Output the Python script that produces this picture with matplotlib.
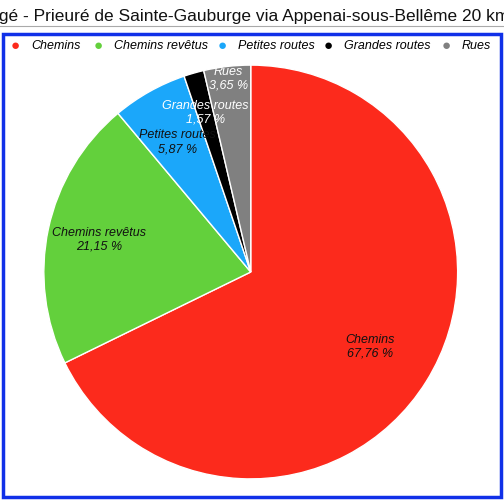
import matplotlib
matplotlib.use("Agg")
import matplotlib.pyplot as plt
import numpy as np
from matplotlib.patches import Rectangle

plt.rcParams['font.family'] = ['Liberation Sans', 'DejaVu Sans']

categories = ["Chemins", "Chemins revêtus", "Petites routes", "Grandes routes", "Rues"]
values = [67.76, 21.15, 5.87, 1.57, 3.65]
colors = ["#fc2a1c", "#63d03c", "#1ba7fa", "#000000", "#808080"]
label_colors = ["#111111", "#111111", "#111111", "white", "white"]
label_radius = [0.68, 0.75, 0.72, 0.8, 0.94]

fig = plt.figure(figsize=(5.04, 5.0), dpi=100)
fig.text(0.5, 0.967, "Igé - Prieuré de Sainte-Gauburge via Appenai-sous-Bellême 20 km",
         ha="center", va="center", fontsize=12.5, color="#111111")
fig.add_artist(plt.Line2D([0, 1], [0.948, 0.948], color="#aaaaaa", lw=0.8))
fig.add_artist(Rectangle((0.006, 0.006), 0.988, 0.926, transform=fig.transFigure,
                         fill=False, edgecolor="#1030e8", lw=2.5))

ax = fig.add_axes([0.087, 0.042, 0.821, 0.828])
wedges, _ = ax.pie(values, colors=colors, startangle=90, counterclock=False,
                   wedgeprops=dict(edgecolor="white", linewidth=1))
ax.set_xlim(-1.0, 1.0)
ax.set_ylim(-1.0, 1.0)
ax.set_aspect("equal")
for w, name, v, lc, r in zip(wedges, categories, values, label_colors, label_radius):
    ang = np.deg2rad((w.theta1 + w.theta2) / 2)
    x, y = r * np.cos(ang), r * np.sin(ang)
    ax.text(x, y, f"{name}\n{v:.2f} %".replace(".", ","), ha="center", va="center",
            fontsize=9, style="italic", color=lc, linespacing=1.2)

# legend
dot_x = [15, 98, 222, 328, 446]
for x, name, c in zip(dot_x, categories, colors):
    fig.text(x / 504, 0.908, "●", color=c, fontsize=11, ha="center", va="center")
    fig.text((x + 16) / 504, 0.908, name, fontsize=9, style="italic", ha="left", va="center")

fig.savefig("out.png", dpi=100)
